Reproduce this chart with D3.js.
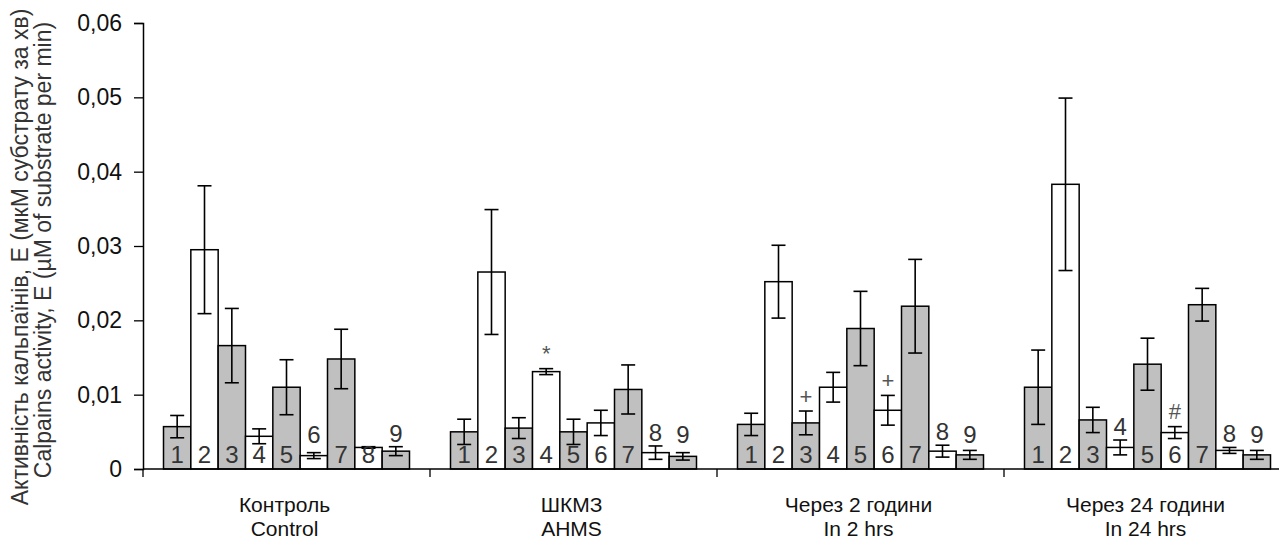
<!DOCTYPE html>
<html>
<head>
<meta charset="utf-8">
<script src="https://cdn.jsdelivr.net/npm/d3@7"></script>
<style>
  body { margin: 0; background: #fff; }
  svg { display: block; font-family: "Liberation Sans", Arial, sans-serif; }
</style>
</head>
<body>
<svg id="chart" width="1279" height="542"></svg>
<script>
// categories (two-line labels)
const groupsUa = ["Контроль", "ШКМЗ", "Через 2 години", "Через 24 години"];
const groupsEn = ["Control", "AHMS", "In 2 hrs", "In 24 hrs"];
const barIds = ["1", "2", "3", "4", "5", "6", "7", "8", "9"];

// mean values per group (bars 1..9)
const control = [0.0057, 0.0295, 0.0166, 0.0044, 0.0110, 0.0018, 0.0148, 0.0029, 0.0024];
const ahms    = [0.0050, 0.0265, 0.0055, 0.0131, 0.0050, 0.0062, 0.0107, 0.0022, 0.0017];
const hrs2    = [0.0060, 0.0252, 0.0062, 0.0110, 0.0189, 0.0079, 0.0219, 0.0024, 0.0019];
const hrs24   = [0.0110, 0.0383, 0.0066, 0.0029, 0.0141, 0.0049, 0.0221, 0.0025, 0.0019];

// error (half range)
const controlErr = [0.0015, 0.0086, 0.0050, 0.0010, 0.0037, 0.0004, 0.0040, 0.0001, 0.0006];
const ahmsErr    = [0.0017, 0.0084, 0.0014, 0.0004, 0.0017, 0.0017, 0.0033, 0.0009, 0.0005];
const hrs2Err    = [0.0015, 0.0049, 0.0016, 0.0020, 0.0050, 0.0020, 0.0063, 0.0008, 0.0006];
const hrs24Err   = [0.0050, 0.0116, 0.0017, 0.0010, 0.0035, 0.0008, 0.0022, 0.0004, 0.0006];

const values = [control, ahms, hrs2, hrs24];
const errors = [controlErr, ahmsErr, hrs2Err, hrs24Err];

// bar numbers that sit above the bar instead of inside it
const liftedLabels = [["6", "9"], ["8", "9"], ["8", "9"], ["4", "8", "9"]];

// significance marks
const marks = [
  { group: 1, bar: "4", mark: "*" },
  { group: 2, bar: "3", mark: "+" },
  { group: 2, bar: "6", mark: "+" },
  { group: 3, bar: "6", mark: "#" }
];

const yTicks = [0, 0.01, 0.02, 0.03, 0.04, 0.05, 0.06];

const margin = { left: 143, top: 23, bottom: 469 };
const groupW = 287;

const svg = d3.select('#chart');

const x0 = d3.scaleBand()
  .domain(d3.range(groupsUa.length))
  .range([margin.left, margin.left + groupW * groupsUa.length]);

const x1 = d3.scaleBand()
  .domain(barIds)
  .range([0, groupW])
  .paddingOuter(0.75);

const y = d3.scaleLinear()
  .domain([0, 0.06])
  .range([margin.bottom, margin.top]);

const fmt = d => d === 0 ? "0" : d3.format(".2f")(d).replace(".", ",");

// y axis
const yAxis = d3.axisLeft(y)
  .tickValues(yTicks)
  .tickSize(9)
  .tickPadding(12)
  .tickFormat(fmt);

const gy = svg.append('g')
  .attr('transform', `translate(${margin.left}, 0)`)
  .call(yAxis);
gy.select('.domain').attr('stroke', '#000').attr('stroke-width', 1.5);
gy.selectAll('.tick line').attr('stroke', '#000').attr('stroke-width', 1.3);
gy.selectAll('.tick text')
  .attr('font-size', 23)
  .attr('fill', '#111')
  .attr('font-family', '"Liberation Sans", Arial, sans-serif');

// bars
const groups = svg.selectAll('.group')
  .data(values.map((v, gi) => ({ gi, bars: v.map((val, bi) => ({ gi, id: barIds[bi], val, err: errors[gi][bi] })) })))
  .join('g')
  .attr('class', 'group')
  .attr('transform', d => `translate(${x0(d.gi)}, 0)`);

groups.selectAll('rect')
  .data(d => d.bars)
  .join('rect')
  .attr('x', d => x1(d.id))
  .attr('y', d => y(d.val))
  .attr('width', x1.bandwidth())
  .attr('height', d => y(0) - y(d.val))
  .attr('fill', (d, i) => i % 2 === 0 ? '#c0c0c0' : '#fff')
  .attr('stroke', '#000')
  .attr('stroke-width', 1.5);

// error bars
const cap = 7;
const eb = groups.selectAll('.err')
  .data(d => d.bars)
  .join('g')
  .attr('class', 'err')
  .attr('stroke', '#000')
  .attr('stroke-width', 1.6);

eb.append('line')
  .attr('x1', d => x1(d.id) + x1.bandwidth() / 2)
  .attr('x2', d => x1(d.id) + x1.bandwidth() / 2)
  .attr('y1', d => y(d.val + d.err))
  .attr('y2', d => y(d.val - d.err));
eb.append('line')
  .attr('x1', d => x1(d.id) + x1.bandwidth() / 2 - cap)
  .attr('x2', d => x1(d.id) + x1.bandwidth() / 2 + cap)
  .attr('y1', d => y(d.val + d.err))
  .attr('y2', d => y(d.val + d.err));
eb.append('line')
  .attr('x1', d => x1(d.id) + x1.bandwidth() / 2 - cap)
  .attr('x2', d => x1(d.id) + x1.bandwidth() / 2 + cap)
  .attr('y1', d => y(d.val - d.err))
  .attr('y2', d => y(d.val - d.err));

// bar numbers
groups.selectAll('.num')
  .data(d => d.bars)
  .join('text')
  .attr('class', 'num')
  .attr('x', d => x1(d.id) + x1.bandwidth() / 2)
  .attr('y', d => liftedLabels[d.gi].includes(d.id)
    ? Math.min(margin.bottom - 26, y(d.val + d.err) - 5)
    : margin.bottom - 6)
  .attr('text-anchor', 'middle')
  .attr('font-size', 24)
  .attr('fill', '#333')
  .text(d => d.id);

// significance marks
svg.selectAll('.mark')
  .data(marks)
  .join('text')
  .attr('class', 'mark')
  .attr('x', d => x0(d.group) + x1(d.bar) + x1.bandwidth() / 2)
  .attr('y', d => {
    const i = barIds.indexOf(d.bar);
    return y(values[d.group][i] + errors[d.group][i]) - 15;
  })
  .attr('dominant-baseline', 'central')
  .attr('text-anchor', 'middle')
  .attr('font-size', 22)
  .attr('fill', '#555')
  .text(d => d.mark);

// x axis line with group boundary ticks
const gx = svg.append('g');
gx.append('line')
  .attr('x1', margin.left).attr('x2', 1279)
  .attr('y1', margin.bottom).attr('y2', margin.bottom)
  .attr('stroke', '#000').attr('stroke-width', 1.5);
gx.selectAll('.xt')
  .data(d3.range(groupsUa.length))
  .join('line')
  .attr('x1', d => x0(d)).attr('x2', d => x0(d))
  .attr('y1', margin.bottom).attr('y2', margin.bottom + 8)
  .attr('stroke', '#000').attr('stroke-width', 1.3);

const cat = gx.selectAll('.cat')
  .data(d3.range(groupsUa.length))
  .join('text')
  .attr('class', 'cat')
  .attr('text-anchor', 'middle')
  .attr('font-size', 21)
  .attr('fill', '#111');
cat.append('tspan')
  .attr('x', d => x0(d) + groupW / 2 - 2)
  .attr('y', 512)
  .text(d => groupsUa[d]);
cat.append('tspan')
  .attr('x', d => x0(d) + groupW / 2 - 2)
  .attr('y', 536)
  .text(d => groupsEn[d]);

// y axis title
const yt = svg.append('text')
  .attr('transform', 'rotate(-90)')
  .attr('text-anchor', 'middle')
  .attr('font-size', 23)
  .attr('fill', '#333');
yt.append('tspan').attr('x', -257).attr('y', 28).text('Активність кальпаїнів, Е (мкМ субстрату за хв)');
yt.append('tspan').attr('x', -250).attr('y', 51).text('Calpains  activity, E (µM of substrate per min)');
</script>
</body>
</html>
